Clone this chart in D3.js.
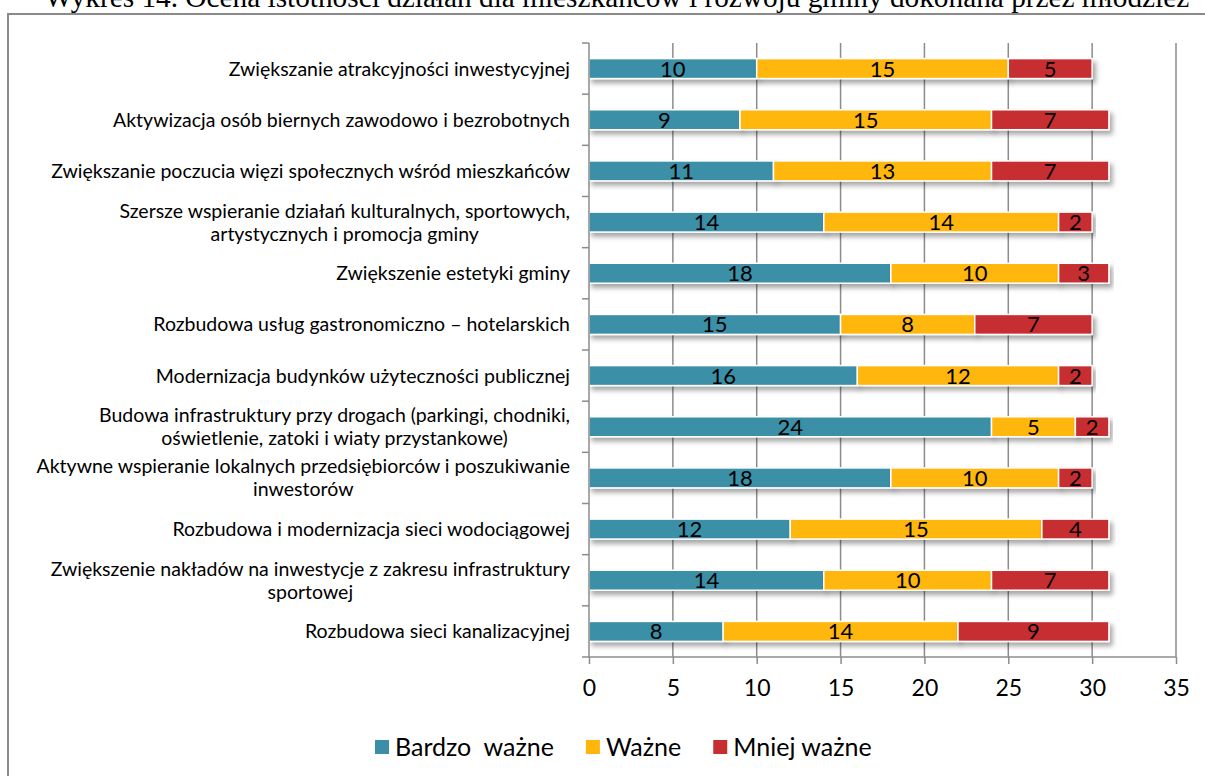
<!DOCTYPE html>
<html lang="pl">
<head>
<meta charset="UTF-8">
<script src="https://cdnjs.cloudflare.com/ajax/libs/d3/7.8.5/d3.min.js"></script>
<title>Wykres 14</title>
<style>
  body { margin: 0; background: #fff; }
  svg { display: block; }
</style>
</head>
<body>
<svg width="1205" height="776"></svg>
<script>
// categories (top to bottom), each label split into lines
const categories = [
    ["Zwiększanie atrakcyjności inwestycyjnej"],
    ["Aktywizacja osób biernych zawodowo i bezrobotnych"],
    ["Zwiększanie poczucia więzi społecznych wśród mieszkańców"],
    ["Szersze wspieranie działań kulturalnych, sportowych,", "artystycznych i promocja gminy"],
    ["Zwiększenie estetyki gminy"],
    ["Rozbudowa usług gastronomiczno – hotelarskich"],
    ["Modernizacja budynków użyteczności publicznej"],
    ["Budowa infrastruktury przy drogach (parkingi, chodniki,", "oświetlenie, zatoki i wiaty przystankowe)"],
    ["Aktywne wspieranie lokalnych przedsiębiorców i poszukiwanie", "inwestorów"],
    ["Rozbudowa i modernizacja sieci wodociągowej"],
    ["Zwiększenie nakładów na inwestycje z zakresu infrastruktury", "sportowej"],
    ["Rozbudowa sieci kanalizacyjnej"]
]
const seriesNames = ["Bardzo  ważne", "Ważne", "Mniej ważne"]
const bardzoWazne = [10, 9, 11, 14, 18, 15, 16, 24, 18, 12, 14, 8]
const wazne = [15, 15, 13, 14, 10, 8, 12, 5, 10, 15, 10, 14]
const mniejWazne = [5, 7, 7, 2, 3, 7, 2, 2, 2, 4, 7, 9]
const xTicks = [0, 5, 10, 15, 20, 25, 30, 35]
const colors = ["#3a8fa6", "#ffb60c", "#c62e30"]

const svg = d3.select("svg")
const labelFont = "Lato, 'Open Sans', sans-serif"

// frame + title (cut at the top edge, as in the source page)
svg.append("rect")
    .attr("x", 8).attr("y", 14)
    .attr("width", 1220).attr("height", 800)
    .style("fill", "none").style("stroke", "#8a8a8a").style("stroke-width", 2)

svg.append("text")
    .attr("x", 617).attr("y", 7)
    .style("text-anchor", "middle")
    .style("font-family", "'Liberation Serif', 'Times New Roman', serif")
    .style("font-size", "29.3px")
    .text("Wykres 14. Ocena istotności działań dla mieszkańców i rozwoju gminy dokonana przez młodzież")

const defs = svg.append("defs")
defs.append("filter").attr("id", "shadow")
    .attr("x", "-5%").attr("y", "-30%").attr("width", "115%").attr("height", "190%")
    .append("feDropShadow")
    .attr("dx", 3).attr("dy", 4).attr("stdDeviation", 2.5)
    .attr("flood-color", "#000").attr("flood-opacity", 0.35)

const margin = { left: 589, top: 43 }
const width = 587, height = 614

const g = svg.append("g").attr("transform", `translate(${margin.left},${margin.top})`)

const x = d3.scaleLinear().domain([0, 35]).range([0, width])
const y = d3.scaleBand().domain(d3.range(categories.length)).range([0, height]).paddingInner(0.61).paddingOuter(0.305)

// gridlines
g.selectAll("line.grid")
    .data(xTicks.filter(d => d > 0))
    .enter().append("line")
    .attr("class", "grid")
    .attr("x1", d => x(d)).attr("x2", d => x(d))
    .attr("y1", 0).attr("y2", height)
    .style("stroke", "#8c8c8c").style("stroke-width", 1.5)

// stacked bars
const rows = categories.map((c, i) => ({ i, values: [bardzoWazne[i], wazne[i], mniejWazne[i]] }))
const stack = d3.stack().keys([0, 1, 2]).value((d, k) => d.values[k])(rows)

const layer = g.selectAll("g.layer")
    .data(stack)
    .enter().append("g")
    .attr("class", "layer")

layer.selectAll("rect")
    .data((s, k) => s.map(d => ({ d, k })))
    .enter().append("rect")
    .attr("x", p => x(p.d[0]))
    .attr("y", p => y(p.d.data.i))
    .attr("width", p => x(p.d[1]) - x(p.d[0]))
    .attr("height", y.bandwidth())
    .style("fill", p => colors[p.k])
    .style("stroke", "#fff")
    .style("stroke-width", 1.5)
    .attr("filter", "url(#shadow)")

layer.selectAll("text")
    .data((s, k) => s.map(d => ({ d, k })))
    .enter().append("text")
    .attr("x", p => x((p.d[0] + p.d[1]) / 2))
    .attr("y", p => y(p.d.data.i) + y.bandwidth() / 2 + 8)
    .style("text-anchor", "middle")
    .style("font-family", labelFont)
    .style("font-size", "22px")
    .style("fill", "#000")
    .text(p => p.d[1] - p.d[0])

// axes
const xAxis = g.append("g")
    .attr("transform", `translate(0,${height})`)
    .call(d3.axisBottom(x).tickValues(xTicks).tickSize(7).tickPadding(16))
xAxis.select(".domain").remove()
xAxis.append("line")
    .attr("x1", -7).attr("x2", width).attr("y1", 0).attr("y2", 0)
    .style("stroke", "#8c8c8c").style("stroke-width", 1.5)
xAxis.selectAll(".tick line").style("stroke", "#8c8c8c").style("stroke-width", 1.5)
xAxis.selectAll(".tick text")
    .style("font-family", labelFont).style("font-size", "23px").style("fill", "#000")

const step = y.step()
const yAxis = g.append("g")
yAxis.append("line")
    .attr("x1", 0).attr("x2", 0).attr("y1", 0).attr("y2", height)
    .style("stroke", "#8c8c8c").style("stroke-width", 1.5)
yAxis.selectAll("line.ytick")
    .data(d3.range(categories.length))
    .enter().append("line")
    .attr("class", "ytick")
    .attr("x1", -7).attr("x2", 0)
    .attr("y1", d => d * step).attr("y2", d => d * step)
    .style("stroke", "#8c8c8c").style("stroke-width", 1.5)

// category labels
g.selectAll("text.cat")
    .data(categories)
    .enter().append("text")
    .attr("class", "cat")
    .attr("y", (d, i) => y(i) + y.bandwidth() / 2 + 7 - (d.length - 1) * 11.5)
    .style("font-family", labelFont)
    .style("font-size", "19.5px")
    .style("fill", "#000")
    .selectAll("tspan")
    .data(d => d.map((line, j) => ({ line, j, n: d.length })))
    .enter().append("tspan")
    .attr("x", -19)
    .attr("dy", p => p.j === 0 ? 0 : 23)
    .style("text-anchor", p => p.j === 1 ? "middle" : "end")
    .text(p => p.line)

// second line is centred under the first one
g.selectAll("text.cat").each(function () {
    const spans = d3.select(this).selectAll("tspan").nodes()
    if (spans.length > 1) {
        const w = spans[0].getComputedTextLength()
        d3.select(spans[1]).attr("x", -19 - w / 2)
    }
})

// legend
const legend = svg.append("g").attr("transform", "translate(375,747)")
let lx = 0
seriesNames.forEach((name, k) => {
    const item = legend.append("g").attr("transform", `translate(${lx},0)`)
    item.append("rect")
        .attr("x", 0).attr("y", -7).attr("width", 14).attr("height", 14)
        .style("fill", colors[k])
    const t = item.append("text")
        .attr("x", 20).attr("y", 9)
        .style("font-family", labelFont)
        .style("font-size", "25px")
        .style("white-space", "pre")
        .attr("xml:space", "preserve")
        .text(name)
    lx += 20 + t.node().getComputedTextLength() + 32
})
</script>
</body>
</html>
